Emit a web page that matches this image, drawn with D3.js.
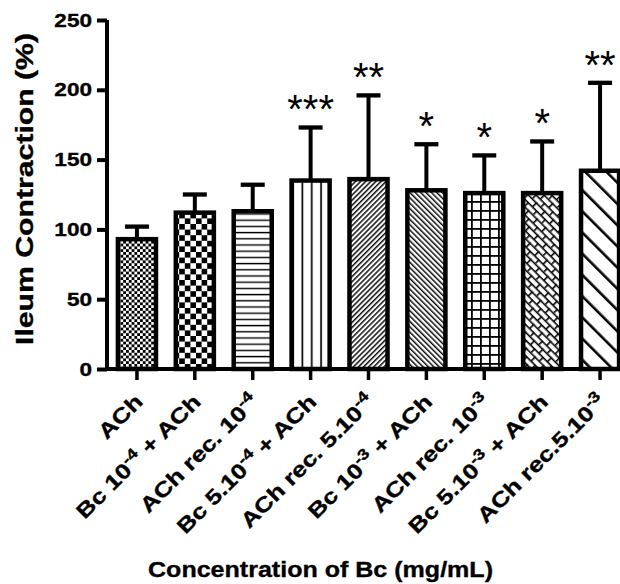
<!DOCTYPE html>
<html>
<head>
<meta charset="utf-8">
<script src="https://cdn.jsdelivr.net/npm/d3@7/dist/d3.min.js"></script>
<style>
  html, body { margin: 0; padding: 0; background: #fff; }
  svg { display: block; }
  text { font-family: "Liberation Sans", Arial, Helvetica, sans-serif; fill: #000; }
  text.bold { font-weight: bold; stroke: #000; stroke-width: 0.35px; }
</style>
</head>
<body>
<svg id="chart" width="620" height="584"></svg>
<script>
// ---- data ----
const categories = [
  "ACh",
  "Bc 10^-4 + ACh",
  "ACh rec. 10^-4",
  "Bc 5.10^-4 + ACh",
  "ACh rec. 5.10^-4",
  "Bc 10^-3 + ACh",
  "ACh rec. 10^-3",
  "Bc 5.10^-3 + ACh",
  "ACh rec.5.10^-3"
];
const meanValues = [93, 112, 113, 135, 136, 128, 126, 126, 142];
const errorTops  = [102, 125, 132, 173, 196, 161, 153, 163, 205];
const significance = ["", "", "", "***", "**", "*", "*", "*", "**"];
const patternIds = ["chkS", "chkL", "hLines", "vLines", "diagF", "diagB", "grid", "brick", "diagW"];
const yTicks = [0, 50, 100, 150, 200, 250];
const yTitle = "Ileum Contraction (%)";
const xTitle = "Concentration of Bc (mg/mL)";

// ---- setup ----
const svg = d3.select("#chart");
const defs = svg.append("defs");

const x = d3.scaleBand().domain(categories).range([108, 629]).paddingInner(0.265).paddingOuter(0.1325);
const y = d3.scaleLinear().domain([0, 250]).range([369, 20]);

// ---- patterns ----
function pat(id, w, h, transform) {
  const p = defs.append("pattern").attr("id", id).attr("patternUnits", "userSpaceOnUse")
    .attr("width", w).attr("height", h);
  if (transform) p.attr("patternTransform", transform);
  p.append("rect").attr("width", w).attr("height", h).attr("fill", "#fff");
  return p;
}
// small checker
{ const c = 2.8; const p = pat("chkS", 2 * c, 2 * c);
  p.append("rect").attr("width", c).attr("height", c).attr("fill", "#000");
  p.append("rect").attr("x", c).attr("y", c).attr("width", c).attr("height", c).attr("fill", "#000"); }
// large checker
{ const c = 5.6; const p = pat("chkL", 2 * c, 2 * c);
  p.append("rect").attr("width", c).attr("height", c).attr("fill", "#000");
  p.append("rect").attr("x", c).attr("y", c).attr("width", c).attr("height", c).attr("fill", "#000"); }
// horizontal lines
{ const p = pat("hLines", 10, 6.2);
  p.append("rect").attr("y", 2.5).attr("width", 10).attr("height", 1.4).attr("fill", "#000"); }
// vertical lines
{ const p = pat("vLines", 9.3, 10);
  p.append("rect").attr("x", 4).attr("width", 1.7).attr("height", 10).attr("fill", "#000"); }
// dense forward diagonal "/"
{ const p = pat("diagF", 3.6, 10, "rotate(45)");
  p.append("rect").attr("x", 1).attr("width", 1.4).attr("height", 10).attr("fill", "#000"); }
// dense backward diagonal "\"
{ const p = pat("diagB", 3.8, 10, "rotate(-45)");
  p.append("rect").attr("x", 1).attr("width", 1.4).attr("height", 10).attr("fill", "#000"); }
// grid
{ const p = pat("grid", 9, 9);
  p.append("rect").attr("x", 3).attr("width", 1.8).attr("height", 9).attr("fill", "#000");
  p.append("rect").attr("y", 3).attr("width", 9).attr("height", 1.8).attr("fill", "#000"); }
// brick (diagonal)
{ const p = pat("brick", 12, 11, "rotate(45)");
  p.append("rect").attr("y", 0).attr("width", 12).attr("height", 1.6).attr("fill", "#000");
  p.append("rect").attr("y", 5.5).attr("width", 12).attr("height", 1.6).attr("fill", "#000");
  p.append("rect").attr("x", 0).attr("y", 0).attr("width", 1.6).attr("height", 5.5).attr("fill", "#000");
  p.append("rect").attr("x", 6).attr("y", 5.5).attr("width", 1.6).attr("height", 5.5).attr("fill", "#000"); }
// wide backward diagonal "\"
{ const p = pat("diagW", 15, 10, "rotate(-45)");
  p.append("rect").attr("x", 6).attr("width", 2.6).attr("height", 10).attr("fill", "#000"); }

// ---- error bars ----
const eb = svg.append("g");
categories.forEach((c, i) => {
  const cx = x(c) + x.bandwidth() / 2;
  eb.append("line").attr("x1", cx).attr("x2", cx).attr("y1", y(meanValues[i])).attr("y2", y(errorTops[i]))
    .attr("stroke", "#000").attr("stroke-width", 4);
  eb.append("line").attr("x1", cx - 12).attr("x2", cx + 12).attr("y1", y(errorTops[i])).attr("y2", y(errorTops[i]))
    .attr("stroke", "#000").attr("stroke-width", 4.3);
});

// ---- bars ----
const sw = 4.5;
svg.append("g").selectAll("rect").data(categories).join("rect")
  .attr("x", d => x(d) + sw / 2)
  .attr("width", x.bandwidth() - sw)
  .attr("y", (d, i) => y(meanValues[i]))
  .attr("height", (d, i) => y(0) - y(meanValues[i]))
  .attr("fill", (d, i) => `url(#${patternIds[i]})`)
  .attr("stroke", "#000").attr("stroke-width", sw);

// ---- significance ----
svg.append("g").selectAll("text").data(categories).join("text")
  .attr("x", d => x(d) + x.bandwidth() / 2)
  .attr("y", (d, i) => y(errorTops[i]) - 4)
  .attr("text-anchor", "middle")
  .style("font-size", "40px")
  .text((d, i) => significance[i]);

// ---- axes ----
const yAxis = svg.append("g").attr("transform", "translate(107,0)")
  .call(d3.axisLeft(y).tickValues(yTicks).tickSize(10).tickFormat(""));
yAxis.select(".domain").attr("d", `M0,${y(250)}V${y(0)}`).attr("stroke-width", 4).attr("stroke", "#000");
yAxis.selectAll(".tick line").attr("stroke-width", 4).attr("stroke", "#000");

const xAxis = svg.append("g").attr("transform", `translate(0,${y(0)})`)
  .call(d3.axisBottom(x).tickSize(11).tickFormat(""));
xAxis.select(".domain").attr("d", "M105,0H629").attr("stroke-width", 4).attr("stroke", "#000");
xAxis.selectAll(".tick line").attr("stroke-width", 3.5).attr("stroke", "#000");

// y tick labels
svg.append("g").selectAll("text").data(yTicks).join("text")
  .attr("class", "bold")
  .attr("transform", d => `translate(92,${y(d) + 6.6}) scale(1.22,1)`)
  .attr("text-anchor", "end")
  .style("font-size", "18.5px")
  .text(d => d);

// x tick labels (with superscripts)
const xl = svg.append("g");
categories.forEach(c => {
  const cx = x(c) + x.bandwidth() / 2;
  const t = xl.append("text")
    .attr("class", "bold")
    .attr("transform", `translate(${cx + 7},403) rotate(-45) scale(1.22,1)`)
    .attr("text-anchor", "end")
    .style("font-size", "21px");
  const parts = c.split(/\^(-?\d+)/);
  parts.forEach((s, k) => {
    if (s === "") return;
    if (k % 2 === 1) {
      t.append("tspan").attr("dy", "-0.55em").style("font-size", "15px").text(s);
    } else {
      const ts = t.append("tspan").text(s);
      if (k > 0) ts.attr("dy", "0.4em");
    }
  });
});

// titles
svg.append("text")
  .attr("class", "bold")
  .attr("transform", "translate(33,189) rotate(-90)")
  .attr("text-anchor", "middle")
  .attr("textLength", 312).attr("lengthAdjust", "spacingAndGlyphs")
  .style("font-size", "23.5px")
  .text(yTitle);

svg.append("text")
  .attr("class", "bold")
  .attr("x", 148).attr("y", 577)
  .attr("textLength", 345).attr("lengthAdjust", "spacingAndGlyphs")
  .style("font-size", "22.5px")
  .text(xTitle);
</script>
</body>
</html>
